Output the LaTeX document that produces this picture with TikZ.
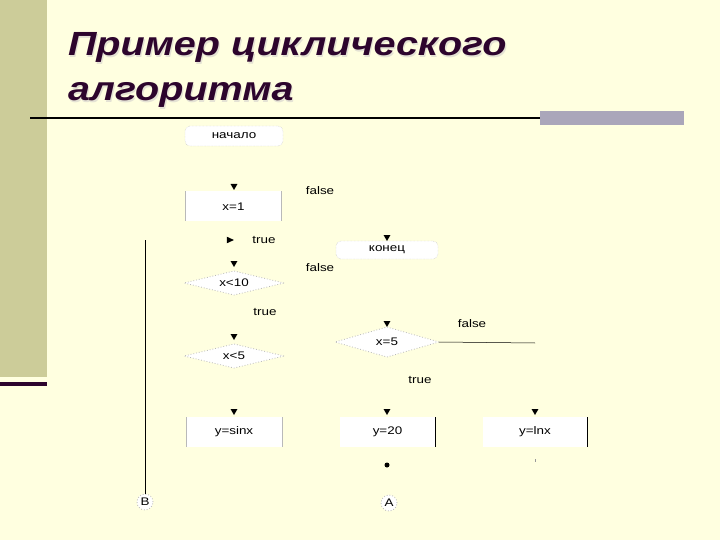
\documentclass[tikz,border=0pt]{standalone}
\usepackage{fontspec}
\setmainfont{Liberation Sans}
\newfontfamily\dfont[FakeStretch=1.22]{Liberation Sans}
\newfontfamily\tfont[FakeStretch=1.18]{Liberation Sans Bold Italic}
\usetikzlibrary{shapes.geometric}
\definecolor{bg}{RGB}{255,255,224}
\definecolor{side}{RGB}{204,204,153}
\definecolor{ttl}{RGB}{45,5,45}
\definecolor{shad}{RGB}{228,226,212}
\definecolor{gbar}{RGB}{170,166,186}
\definecolor{edge}{RGB}{185,185,185}
\begin{document}
\begin{tikzpicture}[x=1pt,y=-1pt,
  every node/.style={inner sep=0pt, outer sep=0pt},
  txt/.style={font=\dfont\fontsize{11}{13}\selectfont, text=black},
  term/.style={txt, rectangle, rounded corners=5pt, fill=white, draw=edge, densely dotted, minimum width=98pt, minimum height=20pt},
  proc/.style={txt, rectangle, fill=white, minimum width=96pt, minimum height=30pt},
  decis/.style={txt, diamond, aspect=4.5, fill=white, draw=edge, dotted, line width=0.8pt, minimum width=100pt, minimum height=24pt},
  conn/.style={txt, circle, fill=white, draw=edge, dotted, line width=0.8pt, minimum size=16pt},
  tipd/.style={isosceles triangle, isosceles triangle apex angle=60, fill=black, minimum width=6pt, minimum height=6pt, shape border rotate=270},
  tipr/.style={isosceles triangle, isosceles triangle apex angle=50, fill=black, minimum width=4.5pt, minimum height=7pt, shape border rotate=0},
  ttlstyle/.style={font=\tfont\fontsize{33.5}{40}\selectfont, anchor=base west}
]
\useasboundingbox (0,0) rectangle (720,540);
\fill[bg] (0,0) rectangle (720,540);
\fill[side] (0,0) rectangle (47,377);
\fill[ttl] (0,381.5) rectangle (47,385.5);
% title
\node[ttlstyle, text=shad] at (69.2,57.2) {Пример циклического};
\node[ttlstyle, text=shad] at (69.2,102.2) {алгоритма};
\node[ttlstyle, text=ttl] (t1) at (68,56) {Пример циклического};
\node[ttlstyle, text=ttl] (t2) at (68,101) {алгоритма};
\fill[gbar] (540,111) rectangle (684,125);
\coordinate (hl1) at (30,118);
\coordinate (hl2) at (540,118);
\draw[line width=2pt] (hl1) -- (hl2);
% nodes
\node[term] (start) at (234,136) {начало};
\node[tipd] (a1) at (234,186) {};
\node[proc] (x1) at (233.5,206.5) {x=1};
\draw[edge, line width=0.8pt] (x1.north west) -- (x1.south west) (x1.north east) -- (x1.south east);
\node[txt] (f1) at (320,191) {false};
\node[tipr] (a2) at (229,240) {};
\node[txt] (tr1) at (264,240) {true};
\node[term, minimum width=102pt, minimum height=18pt] (end) at (387,250) {конец};
\node[tipd] (a3) at (387,237) {};
\node[txt] (f2) at (320,268) {false};
\node[tipd] (a4) at (234,263) {};
\node[decis] (c10) at (234,283) {x<10};
\node[txt] (tr2) at (265,312) {true};
\node[tipd] (a5) at (234,336) {};
\node[decis] (c5) at (234,356) {x<5};
\node[tipd] (a6) at (387,323) {};
\node[decis, minimum width=104pt, minimum height=30pt, aspect=3.5] (e5) at (387,342) {x=5};
\node[txt] (f3) at (472,324) {false};
\coordinate (fl) at (535,343);
\draw[line width=0.5pt] (e5.east) -- (fl);
\node[txt] (tr3) at (420,380) {true};
\node[tipd] (a7) at (234,411) {};
\node[proc] (ys) at (234,432) {y=sinx};
\draw[edge, line width=0.8pt] (ys.north west) -- (ys.south west) (ys.north east) -- (ys.south east);
\node[tipd] (a8) at (387,411) {};
\node[proc] (y20) at (387.5,432) {y=20};
\draw[black, line width=0.6pt] (y20.north east) -- (y20.south east);
\node[tipd] (a9) at (535,411) {};
\node[proc, minimum width=104pt] (yl) at (535,432) {y=lnx};
\draw[black, line width=0.6pt] (yl.north east) -- (yl.south east);
\node[circle, fill=black, minimum size=5pt] (d1) at (387,465) {};
\node[rectangle, fill=black!40, minimum width=0.7pt, minimum height=3pt] (d2) at (535,460) {};
\node[conn] (A) at (389,503) {A};
\node[conn] (B) at (145,502) {B};
\coordinate (bt) at (145,240);
\draw[line width=0.9pt] (B) -- (bt);
\end{tikzpicture}
\end{document}
